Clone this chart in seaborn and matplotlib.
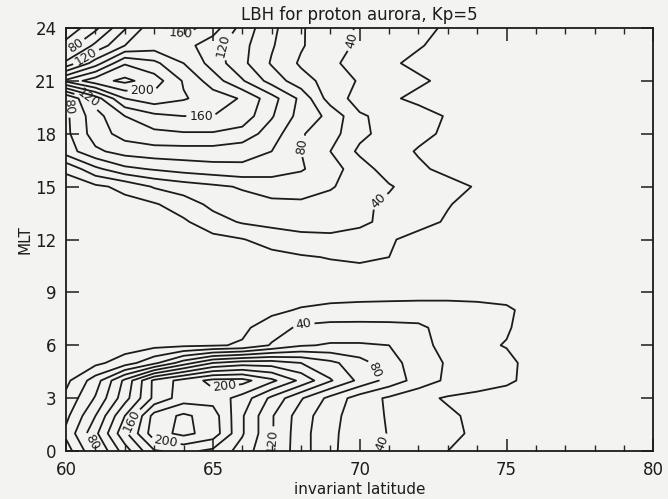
import matplotlib
matplotlib.use("Agg")

import matplotlib.pyplot as plt
import numpy as np
import seaborn as sns

# --- data: LBH intensity (rows = MLT hour, cols = lat 60..80) ---
lat = [60, 61, 62, 63, 64, 65, 66, 67, 68, 69, 70, 71, 72, 73, 74, 75, 76, 77, 78, 79, 80]
mlt = list(range(0, 25))

mlt_00 = [30, 78, 130, 178, 185, 175, 152, 120, 88, 64, 48, 36, 27, 20, 14, 9, 5, 3, 2, 1, 0]
mlt_01 = [45, 95, 155, 212, 225, 212, 162, 122, 88, 64, 50, 39, 30, 24, 17, 11, 6, 3, 2, 1, 0]
mlt_02 = [35, 80, 140, 208, 224, 210, 162, 122, 90, 66, 50, 38, 29, 23, 16, 10, 6, 3, 2, 1, 0]
mlt_03 = [25, 62, 112, 165, 190, 192, 172, 135, 102, 74, 50, 37, 25, 18, 14, 10, 6, 3, 2, 1, 0]
mlt_04 = [15, 50, 105, 165, 188, 206, 207, 185, 155, 122, 95, 72, 52, 36, 30, 24, 12, 5, 2, 1, 0]
mlt_05 = [5, 15, 30, 55, 90, 120, 130, 130, 120, 105, 88, 68, 50, 38, 30, 25, 12, 5, 2, 1, 0]
mlt_06 = [3, 6, 10, 14, 16, 18, 22, 42, 58, 62, 62, 60, 45, 35, 24, 19, 12, 5, 2, 1, 0]
mlt_07 = [2, 3, 5, 8, 12, 15, 16, 30, 44, 47, 47, 46, 44, 32, 26, 22, 10, 4, 2, 1, 0]
mlt_08 = [1, 2, 3, 5, 7, 9, 11, 15, 22, 25, 26, 27, 28, 28, 27, 24, 10, 4, 2, 1, 0]
mlt_09 = [1, 1, 2, 3, 4, 5, 6, 7, 9, 12, 13, 13, 13, 13, 12, 10, 5, 2, 1, 0, 0]
mlt_10 = [1, 1, 2, 3, 4, 5, 6, 8, 10, 13, 16, 14, 8, 5, 3, 2, 1, 1, 0, 0, 0]
mlt_11 = [1, 2, 3, 4, 6, 8, 11, 14, 18, 21, 22, 20, 11, 7, 5, 3, 2, 1, 0, 0, 0]
mlt_12 = [2, 3, 5, 7, 10, 14, 19, 28, 34, 36, 34, 22, 14, 10, 7, 4, 2, 1, 0, 0, 0]
mlt_13 = [4, 6, 9, 12, 17, 32, 42, 46, 48, 47, 43, 36, 26, 18, 12, 6, 3, 2, 1, 0, 0]
mlt_14 = [6, 10, 14, 18, 30, 45, 52, 56, 57, 52, 44, 36, 28, 21, 14, 7, 4, 2, 1, 0, 0]
mlt_15 = [10, 16, 25, 42, 50, 56, 62, 68, 68, 62, 50, 42, 30, 24, 19, 10, 5, 2, 1, 0, 0]
mlt_16 = [24, 55, 75, 82, 88, 92, 95, 90, 82, 68, 50, 30, 22, 17, 12, 7, 4, 2, 1, 0, 0]
mlt_17 = [70, 96, 108, 112, 112, 112, 108, 100, 80, 60, 36, 25, 19, 15, 11, 7, 4, 2, 1, 0, 0]
mlt_18 = [75, 110, 128, 135, 138, 138, 132, 110, 82, 68, 45, 32, 23, 18, 13, 8, 4, 2, 1, 0, 0]
mlt_19 = [76, 112, 140, 155, 160, 160, 152, 122, 92, 75, 42, 35, 25, 19, 13, 8, 4, 2, 1, 0, 0]
mlt_20 = [78, 130, 180, 192, 182, 170, 158, 128, 95, 50, 33, 22, 17, 13, 9, 6, 4, 2, 1, 0, 0]
mlt_21 = [185, 212, 225, 210, 178, 150, 122, 92, 68, 52, 38, 30, 22, 17, 12, 8, 5, 3, 1, 0, 0]
mlt_22 = [105, 150, 198, 185, 160, 132, 105, 78, 57, 43, 34, 22, 17, 13, 9, 6, 4, 2, 1, 0, 0]
mlt_23 = [68, 105, 140, 150, 148, 128, 106, 82, 62, 47, 37, 28, 21, 16, 11, 7, 4, 2, 1, 0, 0]
mlt_24 = [45, 75, 118, 155, 168, 150, 112, 85, 62, 48, 38, 31, 24, 18, 12, 8, 5, 3, 2, 1, 0]

plain_levels = [20, 60, 100, 140, 180, 220]
label_levels = [40, 80, 120, 160, 200]
# approximate spots (lat, MLT) where the printed labels sit
label_spots = [(60.4, 22.8), (60.7, 22.3), (63.9, 23.7), (65.1, 23.1), (69.6, 23.3),
               (62.6, 20.8), (60.8, 20.2), (60.4, 19.6), (64.6, 19.1), (68.0, 17.3),
               (70.6, 14.3), (68.1, 7.0), (70.7, 4.75), (65.4, 3.45), (62.4, 1.6),
               (63.4, 0.55), (61.0, 0.6), (66.8, 0.6), (70.5, 0.6)]

x_ticks = [60, 65, 70, 75, 80]
y_ticks = [0, 3, 6, 9, 12, 15, 18, 21, 24]

# --- style ---
BG = "#f3f3f1"
INK = "#1c1c1c"
sns.set_style("ticks")
plt.rcParams["font.family"] = ["DejaVu Sans"]

Z = np.vstack([mlt_00, mlt_01, mlt_02, mlt_03, mlt_04, mlt_05, mlt_06, mlt_07, mlt_08,
               mlt_09, mlt_10, mlt_11, mlt_12, mlt_13, mlt_14, mlt_15, mlt_16, mlt_17,
               mlt_18, mlt_19, mlt_20, mlt_21, mlt_22, mlt_23, mlt_24]).astype(float)
LAT, MLT = np.meshgrid(lat, mlt)

fig = plt.figure(figsize=(6.68, 4.99), dpi=100, facecolor=BG)
ax = fig.add_axes([0.099, 0.096, 0.879, 0.848])
ax.set_facecolor(BG)

ax.contour(LAT, MLT, Z, levels=plain_levels, colors=INK, linewidths=1.3)
cs = ax.contour(LAT, MLT, Z, levels=label_levels, colors=INK, linewidths=1.3)
ax.clabel(cs, fmt="%d", fontsize=9, inline=True, inline_spacing=3, manual=label_spots)

ax.set_xlim(60, 80)
ax.set_ylim(0, 24)
ax.set_xticks(x_ticks)
ax.set_xticks(np.arange(60, 81, 1), minor=True)
ax.set_yticks(y_ticks)
ax.tick_params(axis="both", which="major", direction="in", length=9, width=1.1,
               top=True, right=True, labelsize=12, colors=INK, pad=7)
ax.tick_params(axis="x", which="minor", direction="in", length=4.5, width=1.0,
               top=True, bottom=True)
for side in ax.spines.values():
    side.set_linewidth(1.3)
    side.set_color(INK)

ax.set_title("LBH for proton aurora, Kp=5", fontsize=12, color=INK, pad=6)
ax.set_xlabel("invariant latitude", fontsize=11, color=INK, labelpad=2)
ax.set_ylabel("MLT", fontsize=11, color=INK, labelpad=2)

fig.savefig("out.png", dpi=100, facecolor=BG)
